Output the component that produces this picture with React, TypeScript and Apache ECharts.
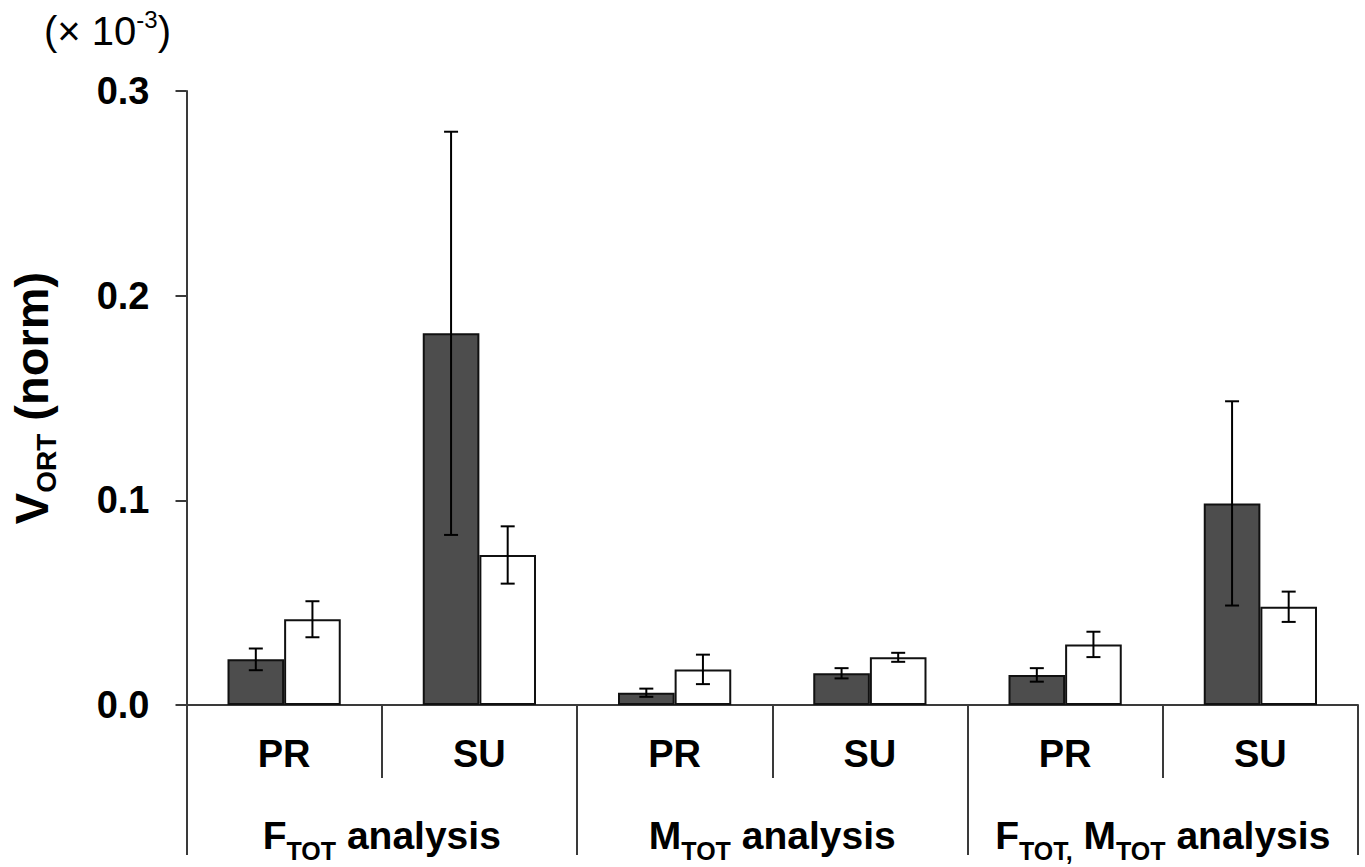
import React, { useEffect, useRef } from "react";
import * as echarts from "echarts";

// ---- data (values in units of 10^-3) ----
const categories = ["PR", "SU", "PR", "SU", "PR", "SU"];
const groups = ["F_TOT analysis", "M_TOT analysis", "F_TOT, M_TOT analysis"];
const darkMeans = [0.0223, 0.1816, 0.006, 0.0155, 0.0147, 0.0985];
const darkSD = [0.0053, 0.0985, 0.002, 0.0025, 0.0033, 0.0499];
const whiteMeans = [0.0419, 0.0733, 0.0174, 0.0233, 0.0296, 0.048];
const whiteSD = [0.0088, 0.014, 0.0072, 0.0022, 0.0062, 0.0074];
const yTicks = [0, 0.1, 0.2, 0.3];
const yAxisTitle = "V_ORT (norm)";
const scaleNote = "(× 10^-3)";

const FONT = "'Liberation Sans', Arial, Helvetica, sans-serif";
const AXIS_COLOR = "#3a3a3a";
const BAR_FRAC = 0.29;

function toRich(s: string, main: string, sub: string): string {
  const parts = s.split(/_([A-Z,]+)/);
  return parts
    .map((t, i) => (t === "" ? "" : i % 2 === 0 ? `{${main}|${t}}` : `{${sub}|${t}}`))
    .join("");
}

export default function App() {
  const ref = useRef<HTMLDivElement>(null);
  useEffect(() => {
    if (!ref.current) return;
    const chart = echarts.init(ref.current, undefined, { renderer: "svg" });

    const errData: number[][] = [];
    categories.forEach((_, i) => {
      errData.push([i, darkMeans[i] - darkSD[i], darkMeans[i] + darkSD[i], 0]);
      errData.push([i, whiteMeans[i] - whiteSD[i], whiteMeans[i] + whiteSD[i], 1]);
    });

    const [noteMain, noteSup] = scaleNote.split("^");
    const noteText = `{a|${noteMain}}{s|${noteSup.replace(")", "")}}{a|)}`;

    const option: any = {
      animation: false,
      backgroundColor: "#fff",
      grid: { left: 182, right: 7, top: 91, bottom: 162, containLabel: false },
      graphic: [
        {
          type: "text",
          left: 44,
          top: 7,
          style: {
            text: noteText,
            rich: {
              a: { fontSize: 40, fontFamily: FONT, fill: "#000", color: "#000", lineHeight: 48 },
              s: { fontSize: 24, fontFamily: FONT, fill: "#000", color: "#000", verticalAlign: "top", lineHeight: 26 },
            },
          },
        },
      ],
      xAxis: [
        {
          type: "category",
          data: categories,
          position: "bottom",
          boundaryGap: true,
          axisLine: { show: true, onZero: false, lineStyle: { color: AXIS_COLOR, width: 2 } },
          axisTick: { show: true, interval: 0, length: 73, inside: false, lineStyle: { color: AXIS_COLOR, width: 2 } },
          axisLabel: {
            interval: 0,
            margin: 30,
            fontSize: 38,
            fontWeight: "bold",
            fontFamily: FONT,
            color: "#000",
          },
          splitLine: { show: false },
        },
        {
          type: "category",
          data: groups,
          position: "bottom",
          boundaryGap: true,
          axisLine: { show: false },
          axisTick: { show: true, interval: 0, length: 150, inside: false, lineStyle: { color: AXIS_COLOR, width: 2 } },
          axisLabel: {
            interval: 0,
            margin: 102,
            formatter: (v: string) => toRich(v, "m", "s"),
            rich: {
              m: { fontSize: 39, fontWeight: "bold", fontFamily: FONT, color: "#000", lineHeight: 56 },
              s: { fontSize: 25, fontWeight: "bold", fontFamily: FONT, color: "#000", verticalAlign: "bottom", lineHeight: 26 },
            },
          },
          splitLine: { show: false },
        },
      ],
      yAxis: {
        type: "value",
        min: yTicks[0],
        max: yTicks[yTicks.length - 1],
        interval: 0.1,
        name: toRich(yAxisTitle, "v", "s"),
        nameLocation: "middle",
        nameRotate: 90,
        nameGap: 126,
        nameTextStyle: {
          rich: {
            v: { fontSize: 47, fontWeight: "bold", fontFamily: FONT, color: "#000", lineHeight: 58 },
            s: { fontSize: 28, fontWeight: "bold", fontFamily: FONT, color: "#000", verticalAlign: "bottom", lineHeight: 30 },
          },
        },
        axisLine: { show: true, lineStyle: { color: AXIS_COLOR, width: 2 } },
        axisTick: { show: true, length: 11, inside: false, lineStyle: { color: AXIS_COLOR, width: 2 } },
        axisLabel: {
          margin: 37,
          fontSize: 38,
          fontWeight: "bold",
          fontFamily: FONT,
          color: "#000",
          formatter: (v: number) => v.toFixed(1),
        },
        splitLine: { show: false },
      },
      series: [
        {
          type: "bar",
          xAxisIndex: 0,
          data: darkMeans,
          barWidth: `${BAR_FRAC * 100}%`,
          barGap: "0%",
          itemStyle: { color: "#4d4d4d", borderColor: "#111", borderWidth: 2 },
          z: 2,
        },
        {
          type: "bar",
          xAxisIndex: 0,
          data: whiteMeans,
          barWidth: `${BAR_FRAC * 100}%`,
          barGap: "0%",
          itemStyle: { color: "#ffffff", borderColor: "#111", borderWidth: 2 },
          z: 2,
        },
        {
          type: "custom",
          xAxisIndex: 0,
          data: errData,
          encode: { x: 0, y: [1, 2] },
          z: 5,
          renderItem: (params: any, api: any) => {
            const idx = api.value(0);
            const lo = api.value(1);
            const hi = api.value(2);
            const s = api.value(3);
            const c = api.coord([idx, 0]);
            const band = api.size([1, 0])[0];
            const bw = band * BAR_FRAC;
            const x = c[0] + (s === 0 ? -bw / 2 : bw / 2);
            const yLo = api.coord([idx, lo])[1];
            const yHi = api.coord([idx, hi])[1];
            const cap = 7;
            const st = { stroke: "#000", lineWidth: 2 };
            return {
              type: "group",
              children: [
                { type: "line", shape: { x1: x, y1: yHi, x2: x, y2: yLo }, style: st },
                { type: "line", shape: { x1: x - cap, y1: yHi, x2: x + cap, y2: yHi }, style: st },
                { type: "line", shape: { x1: x - cap, y1: yLo, x2: x + cap, y2: yLo }, style: st },
              ],
            };
          },
        },
      ],
    };
    chart.setOption(option);
    return () => chart.dispose();
  }, []);
  return (
    <div
      ref={ref}
      style={{ position: "fixed", left: 0, top: 0, width: 1365, height: 867, background: "#fff" }}
    />
  );
}
